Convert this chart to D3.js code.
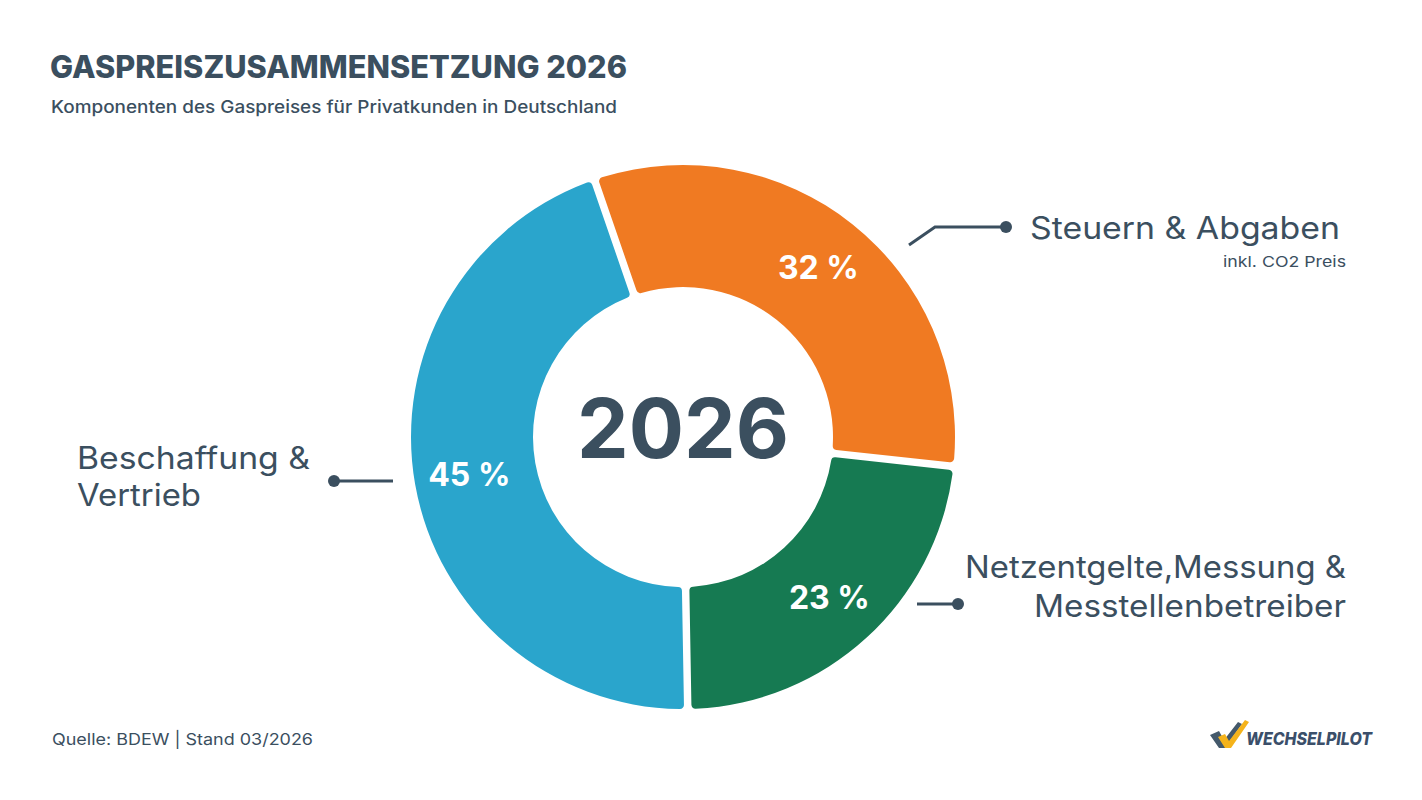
<!DOCTYPE html>
<html>
<head>
<meta charset="utf-8">
<script src="https://cdn.jsdelivr.net/npm/d3@7"></script>
<style>
  body { margin: 0; background: #fff; }
  text { font-family: Inter, "Noto Sans", sans-serif; }
</style>
</head>
<body>
<div id="chart"></div>
<script>
// define constants
const w = 1422;
const h = 800;
const cx = 683, cy = 437;
const outerR = 272, innerR = 150;
const dark = "#3b4f5f";

// data
const categories = ["Steuern & Abgaben", "Netzentgelte,Messung & Messtellenbetreiber", "Beschaffung & Vertrieb"];
const shares = [32, 23, 45];
const colors = ["#f07a22", "#167a52", "#2aa5cc"];
const valueLabels = ["32 %", "23 %", "45 %"];
const centerLabel = "2026";

const svg = d3.select("#chart").append("svg").attr("width", w).attr("height", h);

// helper: text stretched to the width it has in the original (Poppins is wider)
const txt = (x, y, anchor, size, weight, t, len) => {
    const el = svg.append("text").attr("x", x).attr("y", y)
        .attr("text-anchor", anchor).attr("font-size", size).attr("font-weight", weight)
        .attr("fill", dark).text(t);
    if (len) el.attr("textLength", len).attr("lengthAdjust", "spacingAndGlyphs");
    return el;
};

// title + subtitle
txt(50, 78, "start", 31, 800, "GASPREISZUSAMMENSETZUNG 2026", 577);
txt(51, 113, "start", 17, 500, "Komponenten des Gaspreises für Privatkunden in Deutschland", 566);

// donut
const start = -19 * Math.PI / 180;
const pie = d3.pie().sort(null).value(d => d).startAngle(start).endAngle(start + 2 * Math.PI);
const arc = d3.arc().innerRadius(innerR).outerRadius(outerR).padAngle(0.024).cornerRadius(4);
const labelArc = d3.arc().innerRadius(217).outerRadius(217);
const arcs = pie(shares);

const g = svg.append("g").attr("transform", "translate(" + cx + "," + cy + ")");
g.selectAll("path.slice").data(arcs).enter().append("path")
    .attr("class", "slice")
    .attr("d", arc)
    .attr("fill", (d, i) => colors[i]);

g.selectAll("text.val").data(arcs).enter().append("text")
    .attr("class", "val")
    .attr("transform", d => "translate(" + labelArc.centroid(d) + ")")
    .attr("text-anchor", "middle").attr("dy", "0.36em")
    .attr("font-size", 32).attr("font-weight", 700).attr("fill", "#fff")
    .text((d, i) => valueLabels[i]);

g.append("text").attr("text-anchor", "middle").attr("y", 21)
    .attr("font-size", 82).attr("font-weight", 700).attr("fill", dark)
    .text(centerLabel);

// leader lines
const lines = [
    [[909, 245], [935, 227], [1006, 227]],
    [[917, 604], [958, 604]],
    [[393, 481], [334, 481]]
];
lines.forEach(pts => {
    svg.append("path").attr("d", d3.line()(pts))
        .attr("fill", "none").attr("stroke", dark).attr("stroke-width", 3);
    const end = pts[pts.length - 1];
    svg.append("circle").attr("cx", end[0]).attr("cy", end[1]).attr("r", 6).attr("fill", dark);
});

// category labels
txt(1030, 239, "start", 31, 400, "Steuern & Abgaben", 310);
txt(1346, 267, "end", 15, 400, "inkl. CO2 Preis", 123);
txt(1346, 578, "end", 31, 400, "Netzentgelte,Messung &", 381);
txt(1346, 617, "end", 31, 400, "Messtellenbetreiber", 312);
txt(77, 469, "start", 31, 400, "Beschaffung &", 233);
txt(77, 506, "start", 31, 400, "Vertrieb", 124);

// footer
txt(52, 745, "start", 16, 400, "Quelle: BDEW | Stand 03/2026", 261);

// logo
const logo = svg.append("g");
logo.append("path").attr("d", "M1210,735 L1219,731 L1224,740 L1238,722 L1242,724 L1225,748 L1219,748 Z")
    .attr("fill", "#44596b");
logo.append("path").attr("d", "M1218,737 L1225,734 L1229,741 L1245,720 L1249,722 L1231,748 L1225,748 Z")
    .attr("fill", "#f5b31b");
logo.append("text").attr("x", 1246).attr("y", 745)
    .attr("font-size", 17).attr("font-weight", 800).attr("font-style", "italic")
    .attr("fill", "#3b4f6a").attr("textLength", 126).attr("lengthAdjust", "spacingAndGlyphs")
    .text("WECHSELPILOT");
</script>
</body>
</html>
